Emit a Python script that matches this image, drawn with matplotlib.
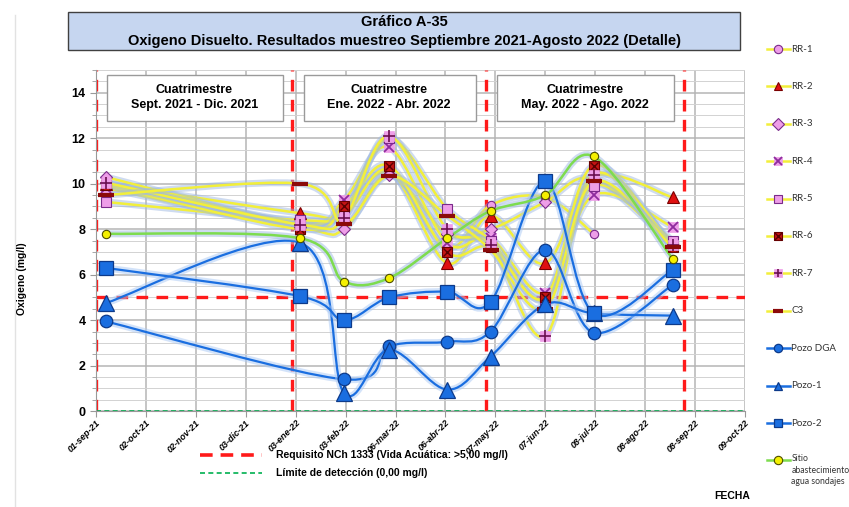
import numpy as np
import pandas as pd
import matplotlib
matplotlib.use("Agg")
import matplotlib.pyplot as plt
import matplotlib.dates as mdates
import matplotlib.patheffects as pe
from matplotlib.path import Path
from matplotlib.patches import PathPatch, Rectangle
from matplotlib.lines import Line2D

plt.rcParams['font.family'] = ['Liberation Sans Narrow', 'Liberation Sans', 'DejaVu Sans']

# ── Data ──────────────────────────────────────────────────────────────────
fechas = ["2021-09-07", "2022-01-06", "2022-02-02", "2022-03-02", "2022-04-07",
          "2022-05-04", "2022-06-07", "2022-07-07", "2022-08-25"]
nan = np.nan
rr1 = [10.0, 8.3, 8.8, 10.5, 7.2, 9.05, 9.4, 7.8, nan]
rr2 = [10.0, 8.7, 8.6, 10.6, 6.5, 8.6, 6.5, 10.3, 9.4]
rr3 = [10.3, 8.1, 8.0, 10.4, 7.8, 8.0, 9.2, 10.2, 7.3]
rr4 = [9.8, 8.2, 9.3, 11.6, 7.4, 7.6, 5.2, 9.5, 8.1]
rr5 = [9.2, 8.4, 8.8, 12.0, 8.9, 7.5, 4.9, 9.9, 7.5]
rr6 = [9.95, 8.0, 9.0, 10.8, 7.0, 7.2, 5.0, 10.8, 7.2]
rr7 = [10.05, 8.2, 8.5, 12.1, 8.0, 7.3, 3.3, 10.4, 7.3]
c3 = [9.5, 10.0, 8.25, 10.35, 8.6, 7.1, 4.5, 10.1, 7.2]
pozo_dga = [3.95, nan, 1.4, 2.85, 3.05, 3.5, 7.1, 3.45, 5.55]
pozo_1 = [4.75, 7.4, 0.8, 2.7, 0.95, 2.4, 4.7, 4.3, 4.2]
pozo_2 = [6.3, 5.05, 4.0, 5.0, 5.25, 4.8, 10.1, 4.3, 6.2]
sitio = [7.8, 7.6, 5.7, 5.85, 7.6, 8.8, 9.5, 11.2, 6.7]

limite_periodos = ["2021-09-01", "2022-01-01", "2022-05-01", "2022-09-01"]
textos_periodos = ["Cuatrimestre\nSept. 2021 - Dic. 2021",
                   "Cuatrimestre\nEne. 2022 - Abr. 2022",
                   "Cuatrimestre\nMay. 2022 - Ago. 2022"]
requisito = 5.0
limite_det = 0.0
meses = ["ene", "feb", "mar", "abr", "may", "jun", "jul", "ago", "sep", "oct", "nov", "dic"]

x = mdates.date2num(pd.to_datetime(fechas).to_pydatetime())

# ── Styles ────────────────────────────────────────────────────────────────
YEL, GREEN, BLUE = "#f2ef3a", "#7ddc4f", "#1a6ee0"
PINK, PURP = "#ee9ee8", "#7a2a8a"
series = [
    ("RR-1", rr1, YEL, [dict(marker="o", ms=6, mfc=PINK, mec=PURP, mew=0.8)]),
    ("RR-2", rr2, YEL, [dict(marker="^", ms=8, mfc="#e01010", mec="#7a0000", mew=0.8)]),
    ("RR-3", rr3, YEL, [dict(marker="D", ms=6, mfc=PINK, mec=PURP, mew=0.8)]),
    ("RR-4", rr4, YEL, [dict(marker="s", ms=7, mfc=PINK, mec=PINK, mew=0.5),
                        dict(marker="x", ms=7, mfc="none", mec="#8e2c9e", mew=1.3)]),
    ("RR-5", rr5, YEL, [dict(marker="s", ms=7, mfc=PINK, mec=PURP, mew=0.8)]),
    ("RR-6", rr6, YEL, [dict(marker="s", ms=7, mfc="#c41414", mec="#6a0000", mew=0.8),
                        dict(marker="x", ms=6, mfc="none", mec="#5a0000", mew=1.0)]),
    ("RR-7", rr7, YEL, [dict(marker="s", ms=7, mfc=PINK, mec=PINK, mew=0.5),
                        dict(marker="+", ms=8, mfc="none", mec="#6a1050", mew=1.2)]),
    ("C3", c3, YEL, [dict(marker="_", ms=12, mfc="none", mec="#8b0a0a", mew=3)]),
    ("Pozo DGA", pozo_dga, BLUE, [dict(marker="o", ms=9, mfc=BLUE, mec="#0d3a8a", mew=0.9)]),
    ("Pozo-1", pozo_1, BLUE, [dict(marker="^", ms=11, mfc=BLUE, mec="#0d3a8a", mew=0.9)]),
    ("Pozo-2", pozo_2, BLUE, [dict(marker="s", ms=10, mfc=BLUE, mec="#0d3a8a", mew=0.9)]),
    ("Sitio\nabastecimiento\nagua sondajes", sitio, GREEN,
     [dict(marker="o", ms=6, mfc="#f5f000", mec="#4d4d00", mew=0.8)]),
]


def smooth_path(xs, ys):
    # Excel-style smoothed line as cubic Bezier segments
    pts = np.column_stack([xs, ys])
    n = len(pts)
    verts, codes = [pts[0]], [Path.MOVETO]
    for i in range(n - 1):
        p0, p1 = pts[max(i - 1, 0)], pts[i]
        p2, p3 = pts[i + 1], pts[min(i + 2, n - 1)]
        verts += [p1 + (p2 - p0) / 6, p2 - (p3 - p1) / 6, p2]
        codes += [Path.CURVE4] * 3
    return Path(verts, codes)


# ── Figure ────────────────────────────────────────────────────────────────
fig = plt.figure(figsize=(8.49, 5.07), dpi=100)
ax = fig.add_axes([0.113, 0.189, 0.7645, 0.673])

x0 = mdates.date2num(pd.Timestamp("2021-09-01").to_pydatetime())
x1 = mdates.date2num(pd.Timestamp("2022-10-09").to_pydatetime())
ax.set_xlim(x0, x1)
ax.set_ylim(0, 15)

ticks = np.arange(x0, x1 + 1, 31)
ax.set_xticks(ticks)
ax.set_xticklabels([f"{d.day:02d}-{meses[d.month - 1]}-{d.year % 100}"
                    for d in mdates.num2date(ticks)],
                   rotation=45, ha="right", rotation_mode="anchor",
                   fontsize=6.5, fontweight="bold", fontstyle="italic")
ax.set_yticks(np.arange(0, 15, 2))
ax.set_yticks(np.arange(0, 15.01, 0.5), minor=True)
ax.tick_params(axis="y", which="major", labelsize=9, length=4, color="#999999")
ax.tick_params(axis="y", which="minor", length=3, color="#999999")
ax.tick_params(axis="x", length=4, color="#999999", pad=1)
for lab in ax.get_yticklabels():
    lab.set_fontweight("bold")
ax.grid(True, which="major", color="#b5b5b5", lw=1.1)
ax.grid(True, which="minor", axis="y", color="#d2d2d2", lw=0.7)
ax.set_axisbelow(True)
for s in ["top", "right"]:
    ax.spines[s].set_visible(False)
for s in ["left", "bottom"]:
    ax.spines[s].set_color("#999999")

# reference lines
for d in limite_periodos:
    ax.axvline(mdates.date2num(pd.Timestamp(d).to_pydatetime()), color="#ff1a1a",
               lw=2.4, dashes=(3.5, 2.5), zorder=2)
ax.axhline(requisito, color="#ff1a1a", lw=2.4, dashes=(3.5, 2.5), zorder=2)
ax.axhline(limite_det, color="#00b050", lw=1.2, dashes=(3, 2), zorder=2)

# period boxes
pb = mdates.date2num(pd.to_datetime(limite_periodos).to_pydatetime())
for i, txt in enumerate(textos_periodos):
    ax.add_patch(Rectangle((pb[i] + 7, 12.75), pb[i + 1] - pb[i] - 13, 2.05,
                           facecolor="white", edgecolor="#9a9a9a", lw=1, zorder=6))
    ax.text((pb[i] + pb[i + 1]) / 2, 13.78, txt, ha="center", va="center",
            fontsize=9, fontweight="bold", linespacing=1.3, zorder=7)

# lines
for name, vals, col, _ in series:
    v = np.array(vals, dtype=float)
    ok = ~np.isnan(v)
    glow = "#9fb9e2" if col != BLUE else "#a9c8f5"
    patch = PathPatch(smooth_path(x[ok], v[ok]), fill=False, edgecolor=col,
                      lw=1.6 if col == BLUE else 1.8, zorder=3,
                      path_effects=[pe.Stroke(linewidth=5, foreground=glow, alpha=0.5),
                                    pe.Normal()])
    ax.add_patch(patch)

# markers
for name, vals, col, layers in series:
    for st in layers:
        ax.plot(x, vals, ls="none", zorder=5, **st)

# ── Texts & legends ───────────────────────────────────────────────────────
fig.add_artist(Rectangle((0.080, 0.901), 0.7915, 0.075, transform=fig.transFigure,
                         facecolor="#c6d6f0", edgecolor="#404040", lw=1.0))
fig.text(0.476, 0.957, "Gráfico A-35", ha="center", va="center",
         fontsize=10.5, fontweight="bold")
fig.text(0.476, 0.919,
         "Oxigeno Disuelto. Resultados muestreo Septiembre 2021-Agosto 2022 (Detalle)",
         ha="center", va="center", fontsize=10.5, fontweight="bold")
fig.text(0.026, 0.45, "Oxigeno (mg/l)", rotation=90, ha="center", va="center",
         fontsize=7.5, fontweight="bold")
fig.add_artist(Line2D([0.018, 0.018], [0.0, 0.97], transform=fig.transFigure,
                      color="#e2e2e2", lw=1))

for i, (name, vals, col, layers) in enumerate(series):
    yy = 1 - (49 + i * 37.4) / 507
    fig.add_artist(Line2D([0.903, 0.930], [yy, yy], transform=fig.transFigure,
                          color=col, lw=1.8))
    for st in layers:
        st2 = dict(st)
        st2["ms"] = min(st["ms"], 6) if st["marker"] != "_" else 7
        fig.add_artist(Line2D([0.9165], [yy], transform=fig.transFigure, ls="none", **st2))
    if "\n" in name:
        fig.text(0.932, yy + 0.012, name, ha="left", va="top", fontsize=6.2,
                 family=["Lato", "DejaVu Sans"], color="#333333", linespacing=1.35)
    else:
        fig.text(0.932, yy, name, ha="left", va="center", fontsize=7,
                 family=["Lato", "DejaVu Sans"], color="#333333")

fig.add_artist(Line2D([0.236, 0.309], [0.102, 0.102], transform=fig.transFigure,
                      color="#ff1a1a", lw=2.6, dashes=(3.5, 2.2)))
fig.text(0.325, 0.102, "Requisito NCh 1333 (Vida Acuática: >5,00 mg/l)",
         va="center", fontsize=7.5, fontweight="bold")
fig.add_artist(Line2D([0.236, 0.309], [0.067, 0.067], transform=fig.transFigure,
                      color="#00b050", lw=1.2, dashes=(3, 2)))
fig.text(0.325, 0.067, "Límite de detección (0,00 mg/l)",
         va="center", fontsize=7.5, fontweight="bold")
fig.text(0.862, 0.022, "FECHA", ha="center", va="center", fontsize=7.5,
         fontweight="bold")

fig.savefig("out.png", dpi=100)
